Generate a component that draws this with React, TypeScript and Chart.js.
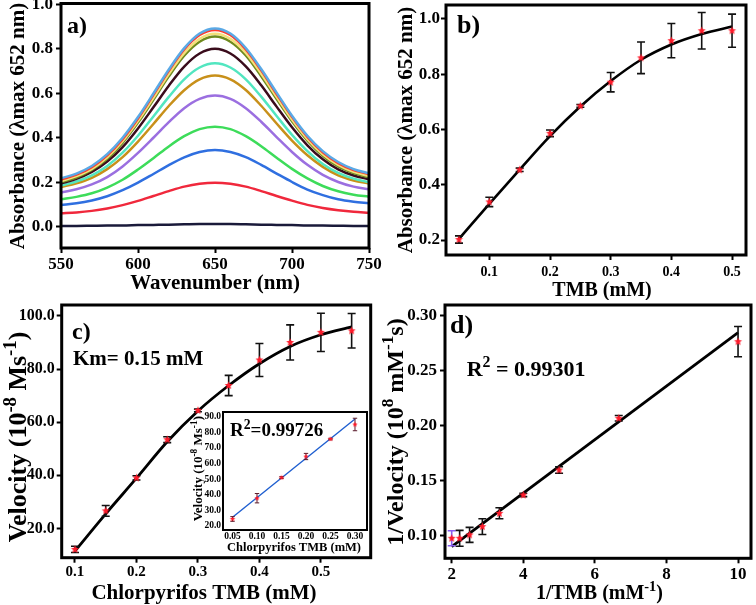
import React, { useEffect, useRef } from "react";
import { Chart, registerables } from "chart.js";
Chart.register(...registerables);

// ---------------- data ----------------
// panel a) UV-vis spectra
const WAVELENGTH = [550, 560, 570, 580, 590, 600, 610, 620, 630, 640, 650, 660, 670, 680, 690, 700, 710, 720, 730, 740, 750];
const SPEC_1 = [0.217, 0.239, 0.273, 0.326, 0.400, 0.493, 0.599, 0.707, 0.803, 0.869, 0.892, 0.869, 0.804, 0.709, 0.603, 0.499, 0.409, 0.340, 0.291, 0.259, 0.240];
const SPEC_2 = [0.212, 0.234, 0.268, 0.321, 0.394, 0.487, 0.593, 0.701, 0.797, 0.862, 0.885, 0.862, 0.797, 0.703, 0.597, 0.494, 0.404, 0.335, 0.286, 0.255, 0.236];
const SPEC_3 = [0.205, 0.227, 0.260, 0.312, 0.384, 0.476, 0.580, 0.687, 0.781, 0.845, 0.868, 0.845, 0.782, 0.688, 0.584, 0.482, 0.394, 0.326, 0.278, 0.247, 0.228];
const SPEC_4 = [0.200, 0.221, 0.255, 0.305, 0.377, 0.468, 0.571, 0.676, 0.769, 0.832, 0.855, 0.832, 0.770, 0.677, 0.574, 0.474, 0.387, 0.319, 0.271, 0.241, 0.222];
const SPEC_5 = [0.195, 0.215, 0.246, 0.293, 0.358, 0.442, 0.537, 0.634, 0.720, 0.779, 0.800, 0.779, 0.721, 0.636, 0.540, 0.447, 0.366, 0.303, 0.258, 0.230, 0.213];
const SPEC_6 = [0.185, 0.203, 0.231, 0.273, 0.333, 0.409, 0.496, 0.584, 0.663, 0.716, 0.735, 0.716, 0.663, 0.585, 0.498, 0.413, 0.340, 0.282, 0.242, 0.216, 0.200];
const SPEC_7 = [0.178, 0.195, 0.220, 0.259, 0.313, 0.383, 0.462, 0.543, 0.614, 0.663, 0.680, 0.663, 0.615, 0.544, 0.464, 0.387, 0.321, 0.269, 0.231, 0.208, 0.194];
const SPEC_8 = [0.153, 0.168, 0.190, 0.223, 0.271, 0.332, 0.400, 0.470, 0.533, 0.575, 0.590, 0.575, 0.533, 0.472, 0.403, 0.336, 0.278, 0.233, 0.201, 0.180, 0.168];
const SPEC_9 = [0.123, 0.134, 0.150, 0.176, 0.211, 0.257, 0.308, 0.361, 0.407, 0.439, 0.450, 0.439, 0.407, 0.362, 0.310, 0.260, 0.217, 0.183, 0.159, 0.144, 0.135];
const SPEC_10 = [0.097, 0.105, 0.118, 0.137, 0.164, 0.198, 0.237, 0.277, 0.312, 0.336, 0.345, 0.336, 0.313, 0.278, 0.239, 0.201, 0.167, 0.142, 0.123, 0.112, 0.105];
const SPEC_11 = [0.060, 0.064, 0.071, 0.082, 0.097, 0.116, 0.138, 0.160, 0.180, 0.193, 0.198, 0.193, 0.180, 0.160, 0.138, 0.117, 0.098, 0.084, 0.074, 0.067, 0.063];
const SPEC_12 = [0.003, 0.003, 0.004, 0.005, 0.005, 0.007, 0.008, 0.009, 0.011, 0.012, 0.012, 0.012, 0.011, 0.009, 0.008, 0.007, 0.005, 0.005, 0.004, 0.003, 0.003];
const SPECTRA = [SPEC_1, SPEC_2, SPEC_3, SPEC_4, SPEC_5, SPEC_6, SPEC_7, SPEC_8, SPEC_9, SPEC_10, SPEC_11, SPEC_12];
const SPEC_COLORS = ["#5aa9e6", "#ff3a2a", "#f3e07a", "#6f8a1e", "#3a0c1c", "#52e6c0", "#c8901a", "#9b6fe0", "#3ddc5a", "#2f6fe0", "#f0283c", "#1a1a3a"];
const A_X_TICKS = [550, 600, 650, 700, 750];
const A_Y_TICKS = [0, 0.2, 0.4, 0.6, 0.8, 1.0];

// panel b) absorbance vs TMB
const TMB = [0.05, 0.1, 0.15, 0.2, 0.25, 0.3, 0.35, 0.4, 0.45, 0.5];
const ABS_652 = [0.202, 0.338, 0.454, 0.586, 0.685, 0.771, 0.859, 0.921, 0.957, 0.957];
const ABS_652_ERR = [0.013, 0.017, 0.006, 0.012, 0.005, 0.035, 0.057, 0.062, 0.066, 0.060];
const ABS_652_FIT = [0.204, 0.331, 0.455, 0.576, 0.683, 0.775, 0.852, 0.907, 0.945, 0.972];
const B_X_TICKS = [0.1, 0.2, 0.3, 0.4, 0.5];
const B_Y_TICKS = [0.2, 0.4, 0.6, 0.8, 1.0];

// panel c) velocity vs chlorpyrifos TMB
const TMB_C = [0.1, 0.15, 0.2, 0.25, 0.3, 0.35, 0.4, 0.45, 0.5, 0.55];
const VELOCITY = [12.1, 26.6, 39.0, 53.4, 64.4, 73.8, 83.4, 90.0, 93.8, 94.4];
const VELOCITY_ERR = [1.2, 2.0, 0.8, 1.1, 0.5, 3.8, 6.2, 6.6, 7.2, 6.5];
const VELOCITY_FIT = [11.5, 25.5, 38.9, 52.6, 64.2, 73.8, 82.0, 88.5, 92.9, 95.9];
const C_X_TICKS = [0.1, 0.2, 0.3, 0.4, 0.5];
const C_Y_TICKS = [20, 40, 60, 80, 100];

// inset of c)
const TMB_INSET = [0.05, 0.1, 0.15, 0.2, 0.25, 0.3];
const VEL_INSET = [24.5, 37.8, 51.0, 64.5, 75.7, 85.0];
const VEL_INSET_ERR = [1.5, 3.0, 0.6, 2.0, 0.5, 4.0];
const INSET_FIT_X = [0.05, 0.3];
const INSET_FIT = [25.6, 88.5];
const I_X_TICKS = [0.05, 0.1, 0.15, 0.2, 0.25, 0.3];
const I_Y_TICKS = [20, 30, 40, 50, 60, 70, 80, 90];

// panel d) Lineweaver-Burk
const INV_TMB = [2.0, 2.222, 2.5, 2.857, 3.333, 4.0, 5.0, 6.667, 10.0];
const INV_VEL = [0.0979, 0.0979, 0.101, 0.1085, 0.1206, 0.1373, 0.160, 0.207, 0.2767];
const INV_VEL_ERR = [0.0068, 0.0072, 0.0068, 0.0072, 0.005, 0.0015, 0.003, 0.0025, 0.0137];
const INV_FIT_X = [2, 10];
const INV_FIT = [0.0903, 0.2848];
const D_X_TICKS = [2, 4, 6, 8, 10];
const D_Y_TICKS = [0.1, 0.15, 0.2, 0.25, 0.3];

// ---------------- helpers ----------------
const FAMILY = '"Liberation Serif", "Times New Roman", serif';
const fnt = (size: number) => `bold ${size}px ${FAMILY}`;

type Part = [string, boolean?];
type TextItem = { x: number; y: number; size: number; parts: Part[]; rot?: number; align?: "left" | "center" };

function drawTexts(ctx: CanvasRenderingContext2D, items: TextItem[]) {
  for (const it of items) {
    ctx.save();
    ctx.translate(it.x, it.y);
    if (it.rot) ctx.rotate((it.rot * Math.PI) / 180);
    const supSize = it.size * 0.72;
    let total = 0;
    const widths = it.parts.map(([t, sup]) => {
      ctx.font = fnt(sup ? supSize : it.size);
      const w = ctx.measureText(t).width;
      total += w;
      return w;
    });
    let cx = it.align === "left" ? 0 : -total / 2;
    const base = it.size * 0.33;
    ctx.fillStyle = "#000";
    ctx.textAlign = "left";
    ctx.textBaseline = "alphabetic";
    it.parts.forEach(([t, sup], i) => {
      ctx.font = fnt(sup ? supSize : it.size);
      ctx.fillText(t, cx, sup ? base - it.size * 0.4 : base);
      cx += widths[i];
    });
    ctx.restore();
  }
}

const textPlugin = (items: TextItem[]) => ({
  id: "texts",
  afterDraw(chart: any) {
    drawTexts(chart.ctx, items);
  },
});

const framePlugin = (lw: number) => ({
  id: "frame",
  afterDraw(chart: any) {
    const { left, top, right, bottom } = chart.chartArea;
    const ctx = chart.ctx;
    ctx.save();
    ctx.strokeStyle = "#000";
    ctx.lineWidth = lw;
    ctx.strokeRect(left, top, right - left, bottom - top);
    ctx.restore();
  },
});

const errorPlugin = (dsIndex: number, errs: number[], vals: number[], colors: string[], lw: number, cap: number) => ({
  id: "errbars",
  beforeDatasetDraw(chart: any, args: any) {
    if (args.index !== dsIndex) return;
    const meta = chart.getDatasetMeta(dsIndex);
    const ys = chart.scales.y;
    const ctx = chart.ctx;
    ctx.save();
    ctx.lineWidth = lw;
    meta.data.forEach((el: any, i: number) => {
      const x = el.x;
      const y1 = ys.getPixelForValue(vals[i] + errs[i]);
      const y2 = ys.getPixelForValue(vals[i] - errs[i]);
      ctx.strokeStyle = colors[i % colors.length];
      ctx.beginPath();
      ctx.moveTo(x, y1);
      ctx.lineTo(x, y2);
      ctx.moveTo(x - cap, y1);
      ctx.lineTo(x + cap, y1);
      ctx.moveTo(x - cap, y2);
      ctx.lineTo(x + cap, y2);
      ctx.stroke();
    });
    ctx.restore();
  },
});

function makeStar(r: number, color: string) {
  const c = document.createElement("canvas");
  const s = Math.ceil(r * 2 + 2);
  c.width = s;
  c.height = s;
  const ctx = c.getContext("2d")!;
  ctx.fillStyle = color;
  ctx.beginPath();
  for (let i = 0; i < 10; i++) {
    const a = -Math.PI / 2 + (i * Math.PI) / 5;
    const rr = i % 2 === 0 ? r : r * 0.45;
    ctx.lineTo(s / 2 + rr * Math.cos(a), s / 2 + rr * Math.sin(a));
  }
  ctx.closePath();
  ctx.fill();
  return c;
}

function xAxis(min: number, max: number, ticks: number[], fmt: (v: number) => string, size: number, pad: number, tl: number, height: number) {
  return {
    type: "linear",
    position: "bottom",
    min,
    max,
    afterBuildTicks: (s: any) => {
      s.ticks = ticks.map((v) => ({ value: v }));
    },
    afterFit: (s: any) => {
      s.height = height;
      s.paddingLeft = 0;
      s.paddingRight = 0;
    },
    ticks: { font: { family: FAMILY, size, weight: "bold" }, color: "#000", padding: pad, maxRotation: 0, autoSkip: false, callback: (v: any) => fmt(Number(v)) },
    grid: { display: true, drawOnChartArea: false, drawTicks: tl > 0, tickLength: tl, tickWidth: 2, tickColor: "#000" },
    border: { display: false },
  };
}

function yAxis(min: number, max: number, ticks: number[], fmt: (v: number) => string, size: number, pad: number, tl: number, width: number) {
  return {
    type: "linear",
    position: "left",
    min,
    max,
    afterBuildTicks: (s: any) => {
      s.ticks = ticks.map((v) => ({ value: v }));
    },
    afterFit: (s: any) => {
      s.width = width;
      s.paddingTop = 0;
      s.paddingBottom = 0;
    },
    ticks: { font: { family: FAMILY, size, weight: "bold" }, color: "#000", padding: pad, autoSkip: false, callback: (v: any) => fmt(Number(v)) },
    grid: { display: true, drawOnChartArea: false, drawTicks: tl > 0, tickLength: tl, tickWidth: 2, tickColor: "#000" },
    border: { display: false },
  };
}

const common = (padding: any) => ({
  responsive: false,
  animation: false,
  devicePixelRatio: 1,
  events: [],
  layout: { padding },
  plugins: { legend: { display: false }, tooltip: { enabled: false } },
});

const pts = (xs: number[], ys: number[]) => xs.map((x, i) => ({ x, y: ys[i] }));

// ---------------- chart builders ----------------
function buildA() {
  const texts: TextItem[] = [
    { x: 17, y: 126, size: 21, rot: -90, parts: [["Absorbance (λmax 652 nm)"]] },
    { x: 215, y: 282, size: 21, parts: [["Wavenumber (nm)"]] },
    { x: 67, y: 25, size: 24, align: "left", parts: [["a)"]] },
  ];
  return {
    type: "scatter",
    data: {
      datasets: SPECTRA.map((s, i) => ({
        data: pts(WAVELENGTH, s),
        showLine: true,
        borderColor: SPEC_COLORS[i],
        borderWidth: 2.5,
        pointRadius: 0,
        cubicInterpolationMode: "monotone",
      })),
    },
    options: {
      ...common({ left: 0, top: 3.5, right: 17, bottom: 0 }),
      scales: {
        x: xAxis(550, 750, A_X_TICKS, (v) => String(v), 17, 1, 5, 52),
        y: yAxis(-0.096, 1.004, A_Y_TICKS, (v) => v.toFixed(1), 17, 3, 5, 61),
      },
    },
    plugins: [framePlugin(3), textPlugin(texts)],
  };
}

function buildB(star: HTMLCanvasElement) {
  const texts: TextItem[] = [
    { x: 30, y: 130, size: 21, rot: -90, parts: [["Absorbance (λmax 652 nm)"]] },
    { x: 227, y: 289, size: 20, parts: [["TMB (mM)"]] },
    { x: 82, y: 24.4, size: 26, align: "left", parts: [["b)"]] },
  ];
  return {
    type: "scatter",
    data: {
      datasets: [
        { data: pts(TMB, ABS_652), pointStyle: star, pointRadius: 4 },
        { data: pts(TMB, ABS_652_FIT), showLine: true, borderColor: "#000", borderWidth: 2.6, pointRadius: 0, cubicInterpolationMode: "monotone" },
      ],
    },
    options: {
      ...common({ left: 0, top: 3.3, right: 10, bottom: 0 }),
      scales: {
        x: xAxis(0.0286, 0.523, B_X_TICKS, (v) => v.toFixed(1), 14, 4, 5, 45),
        y: yAxis(0.146, 1.05, B_Y_TICKS, (v) => v.toFixed(1), 17, 1, 5, 71),
      },
    },
    plugins: [errorPlugin(0, ABS_652_ERR, ABS_652, ["#111"], 1.6, 4), framePlugin(3), textPlugin(texts)],
  };
}

function buildC(star: HTMLCanvasElement) {
  const texts: TextItem[] = [
    { x: 17.5, y: 137, size: 26, rot: -90, parts: [["Velocity (10"], ["-8", true], [" Ms"], ["-1", true], [")"]] },
    { x: 204, y: 292, size: 21, parts: [["Chlorpyrifos TMB (mM)"]] },
    { x: 72, y: 31, size: 24, align: "left", parts: [["c)"]] },
    { x: 73, y: 58, size: 21, align: "left", parts: [["Km= 0.15 mM"]] },
  ];
  return {
    type: "scatter",
    data: {
      datasets: [
        { data: pts(TMB_C, VELOCITY), pointStyle: star, pointRadius: 4 },
        { data: pts(TMB_C, VELOCITY_FIT), showLine: true, borderColor: "#000", borderWidth: 2.8, pointRadius: 0, cubicInterpolationMode: "monotone" },
      ],
    },
    options: {
      ...common({ left: 0, top: 4, right: 7.3, bottom: 0 }),
      scales: {
        x: xAxis(0.0784, 0.581, C_X_TICKS, (v) => v.toFixed(1), 15, 0, 5, 47.3),
        y: yAxis(8.97, 104.1, C_Y_TICKS, (v) => v.toFixed(1), 16, 2, 5, 61.7),
      },
    },
    plugins: [errorPlugin(0, VELOCITY_ERR, VELOCITY, ["#111"], 1.6, 4), framePlugin(3), textPlugin(texts)],
  };
}

function buildInset(star: HTMLCanvasElement) {
  const texts: TextItem[] = [
    { x: 18, y: 68.7, size: 13, rot: -90, parts: [["Velocity (10"], ["-8", true], [" Ms"], ["-1", true], [")"]] },
    { x: 114, y: 146.7, size: 12.5, parts: [["Chlorpyrifos TMB (mM)"]] },
    { x: 50, y: 30, size: 19, align: "left", parts: [["R"], ["2", true], ["=0.99726"]] },
  ];
  return {
    type: "scatter",
    data: {
      datasets: [
        { data: pts(TMB_INSET, VEL_INSET), pointStyle: star, pointRadius: 2.5 },
        { data: pts(INSET_FIT_X, INSET_FIT), showLine: true, borderColor: "#1f5fd0", borderWidth: 1.4, pointRadius: 0 },
      ],
    },
    options: {
      ...common({ left: 0, top: 12, right: 8, bottom: 0 }),
      scales: {
        x: xAxis(0.0306, 0.3245, I_X_TICKS, (v) => v.toFixed(2), 9.5, 1, 0, 30),
        y: yAxis(17.44, 93.0, I_Y_TICKS, (v) => v.toFixed(1), 9.5, 2, 0, 43),
      },
    },
    plugins: [errorPlugin(0, VEL_INSET_ERR, VEL_INSET, ["#5a1a2a"], 1, 2.2), framePlugin(2), textPlugin(texts)],
  };
}

function buildD(star: HTMLCanvasElement) {
  const texts: TextItem[] = [
    { x: 20, y: 132, size: 24, rot: -90, parts: [["1/Velocity (10"], ["8", true], [" mM"], ["-1", true], ["s)"]] },
    { x: 224.5, y: 292, size: 20, parts: [["1/TMB (mM"], ["-1", true], [")"]] },
    { x: 75, y: 24.4, size: 26, align: "left", parts: [["d)"]] },
    { x: 91.7, y: 68.7, size: 22, align: "left", parts: [["R"], ["2", true], [" = 0.99301"]] },
  ];
  return {
    type: "scatter",
    data: {
      datasets: [
        { data: pts(INV_TMB, INV_VEL), pointStyle: star, pointRadius: 4 },
        { data: pts(INV_FIT_X, INV_FIT), showLine: true, borderColor: "#000", borderWidth: 2.8, pointRadius: 0 },
      ],
    },
    options: {
      ...common({ left: 0, top: 5, right: 4, bottom: 0 }),
      scales: {
        x: xAxis(1.813, 10.362, D_X_TICKS, (v) => String(v), 17, 1.5, 5, 46.7),
        y: yAxis(0.0797, 0.31, D_Y_TICKS, (v) => v.toFixed(2), 17, 3, 5, 70),
      },
    },
    plugins: [errorPlugin(0, INV_VEL_ERR, INV_VEL, ["#8a5cf0", "#111", "#111", "#111", "#111", "#111", "#111", "#111", "#111"], 1.6, 4), framePlugin(3), textPlugin(texts)],
  };
}

function ChartBox(props: { left: number; top: number; width: number; height: number; build: (star: HTMLCanvasElement, small: HTMLCanvasElement) => any }) {
  const ref = useRef<HTMLCanvasElement | null>(null);
  useEffect(() => {
    if (!ref.current) return;
    const star = makeStar(4.2, "#ff1a2a");
    const small = makeStar(2.8, "#ff1a2a");
    const chart = new Chart(ref.current, props.build(star, small));
    return () => chart.destroy();
  }, []);
  return (
    <canvas
      ref={ref}
      width={props.width}
      height={props.height}
      style={{ position: "absolute", left: props.left, top: props.top, width: props.width, height: props.height }}
    />
  );
}

export default function App() {
  return (
    <div style={{ position: "absolute", left: 0, top: 0, width: 756, height: 605, background: "#fff", overflow: "hidden" }}>
      <ChartBox left={375} top={0} width={381} height={300} build={(s) => buildB(s)} />
      <ChartBox left={0} top={0} width={386} height={300} build={() => buildA()} />
      <ChartBox left={0} top={300} width={378} height={305} build={(s) => buildC(s)} />
      <ChartBox left={375} top={300} width={381} height={305} build={(s) => buildD(s)} />
      <ChartBox left={180} top={400} width={195} height={160} build={(s, sm) => buildInset(sm)} />
    </div>
  );
}
